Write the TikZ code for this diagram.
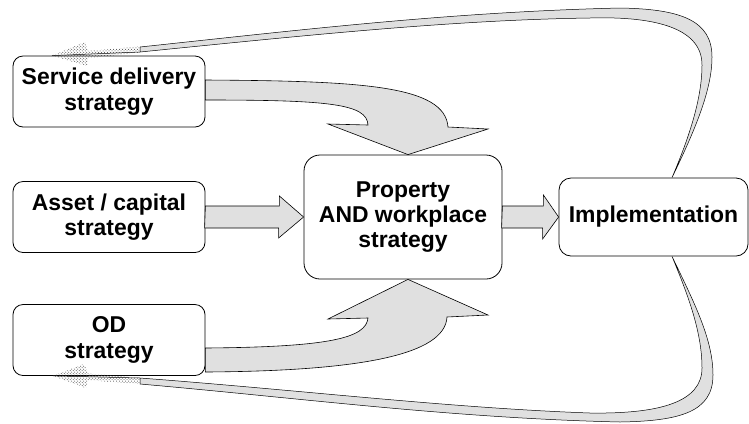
\documentclass[tikz,border=0pt]{standalone}
\usepackage{fontspec}
\setmainfont{Liberation Sans}
\usepackage{tikz}
\usetikzlibrary{patterns}
\tikzstyle{box}=[draw, line width=0.8pt, align=center, inner sep=0pt, font=\fontsize{23}{25.5}\selectfont\bfseries]
\tikzstyle{sbox}=[box, rounded corners=10bp, minimum width=192bp, minimum height=71bp]
\tikzstyle{pbox}=[box, rounded corners=16bp, minimum width=198bp, minimum height=124bp]
\tikzstyle{ibox}=[box, rounded corners=12bp, minimum width=189bp, minimum height=78bp]
\tikzstyle{fat}=[draw, line width=0.6pt, fill=black!12]
\tikzstyle{thin}=[fat, line width=0.5pt]
\tikzstyle{dots}=[pattern=crosshatch dots, pattern color=black!75]

\begin{document}
\begin{tikzpicture}[x=1bp, y=-1bp]
        \useasboundingbox (0,0) rectangle (749,423);
        \node[sbox] (SD) at (109, 91.5) {Service delivery\\strategy};
        \node[sbox] (AC) at (109, 217) {Asset / capital\\strategy};
        \node[sbox] (OD) at (109, 340) {OD\\strategy};
        \node[pbox] (PW) at (403, 217) {Property\\AND workplace\\strategy};
        \node[ibox] (Impl) at (653.5, 217) {\raisebox{-4bp}{Implementation}};
        \coordinate (t1) at ([xshift=18.5bp]Impl.north);
        \coordinate (t2) at ([xshift=-57bp]SD.north);
        \coordinate (b1) at ([xshift=18.5bp]Impl.south);
        \coordinate (b2) at ([xshift=-56bp]OD.south);
        \draw[fat] (AC.east) ++(0,-11) -- ++(74,0) -- ++(0,-10) -- (PW.west) -- ++(-25,21) -- ++(0,-10) -- ++(-74,0) -- cycle;
        \draw[fat] (PW.east) ++(0,-11) -- ++(41,0) -- ++(0,-11) -- (Impl.west) -- ++(-16,22) -- ++(0,-11) -- ++(-41,0) -- cycle;
        \draw[fat] ([yshift=11.5bp]SD.east) .. controls (360,81) and (445,85) .. (448,127)
            -- (488,129) -- ([xshift=5bp]PW.north) -- (328,124) -- (368,125)
            .. controls (367,104) and (330,100) .. ([yshift=-8.5bp]SD.east) -- cycle;
        \draw[fat] ([yshift=-32bp]OD.east) .. controls (360,371) and (445,355) .. (447,317)
            -- (488,315) -- ([xshift=5bp]PW.south) -- (328,319) -- (368,318)
            .. controls (366,338) and (330,347) .. ([yshift=-8bp]OD.east) -- cycle;
        \draw[thin] (t1) .. controls (695,130) and (712,90) .. (712,57) .. controls (712,20) and (680,9) .. (620,8)
            .. controls (450,12) and (300,30) .. (140,47) -- (140,52)
            .. controls (300,36) and (450,20) .. (590,18) .. controls (660,16) and (702,30) .. (702,65)
            .. controls (702,100) and (688,140) .. (t1) -- cycle;
        \draw[thin] (140,52) -- (t2);
        \fill[dots] (140,46.5) -- (88,51) -- (85,42) -- (t2) -- (87,66) -- (88,58) -- (140,52.5) -- cycle;
        \draw[thin] (b1) .. controls (695,304) and (713,340) .. (713,375) .. controls (713,412) and (680,421) .. (620,422)
            .. controls (450,418) and (300,398) .. (140,384) -- (140,378)
            .. controls (300,390) and (450,408) .. (590,413) .. controls (660,414) and (702,402) .. (702,368)
            .. controls (702,332) and (688,295) .. (b1) -- cycle;
        \draw[thin] (140,378) -- (b2);
        \fill[dots] (140,378) -- (88,373.5) -- (84,364) -- (b2) -- (86,388) -- (88,380) -- (140,384) -- cycle;
    \end{tikzpicture}
\end{document}
